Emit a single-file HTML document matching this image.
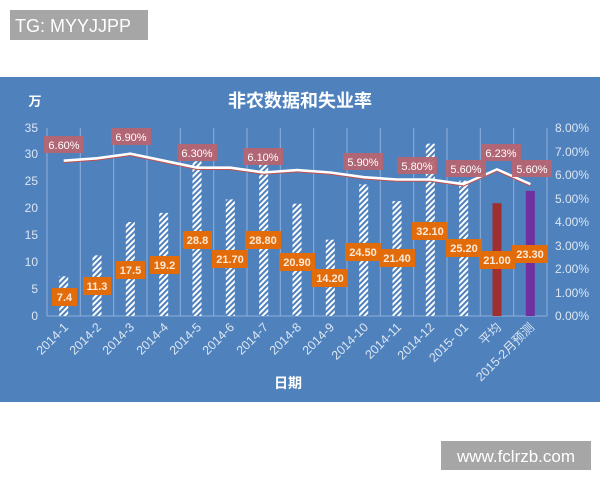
<!DOCTYPE html>
<html><head><meta charset="utf-8"><style>
html,body{margin:0;padding:0;background:#fff;width:600px;height:480px;overflow:hidden}
svg{display:block}
text{font-family:"Liberation Sans","Noto Sans CJK SC",sans-serif}
</style></head><body>
<svg width="600" height="480" viewBox="0 0 600 480" xmlns="http://www.w3.org/2000/svg">
<defs>
<pattern id="h" width="4" height="4" patternUnits="userSpaceOnUse" patternTransform="rotate(45)">
<rect width="4" height="4" fill="#4f81bd"/><rect width="2" height="4" fill="#fff"/>
</pattern>
</defs>
<rect x="10" y="10" width="138" height="30" fill="#a6a6a6"/>
<text x="15" y="32" font-size="18" fill="#fff">TG: MYYJJPP</text>
<rect x="0" y="77" width="600" height="325" fill="#4f81bd"/>
<text x="300" y="107" font-size="18" font-weight="bold" fill="#fff" text-anchor="middle">非农数据和失业率</text>
<text x="35" y="106" font-size="13" font-weight="bold" fill="#fff" text-anchor="middle">万</text>
<g stroke="#8fb0dc" stroke-width="1">
<line x1="47" y1="128" x2="47" y2="316"/><line x1="80.3" y1="128" x2="80.3" y2="316"/><line x1="113.7" y1="128" x2="113.7" y2="316"/><line x1="147" y1="128" x2="147" y2="316"/><line x1="180.3" y1="128" x2="180.3" y2="316"/><line x1="213.7" y1="128" x2="213.7" y2="316"/><line x1="247" y1="128" x2="247" y2="316"/><line x1="280.3" y1="128" x2="280.3" y2="316"/><line x1="313.7" y1="128" x2="313.7" y2="316"/><line x1="347" y1="128" x2="347" y2="316"/><line x1="380.3" y1="128" x2="380.3" y2="316"/><line x1="413.7" y1="128" x2="413.7" y2="316"/><line x1="447" y1="128" x2="447" y2="316"/><line x1="480.3" y1="128" x2="480.3" y2="316"/><line x1="513.7" y1="128" x2="513.7" y2="316"/><line x1="547" y1="128" x2="547" y2="316"/>
<line x1="47" y1="316" x2="547" y2="316"/>
</g>
<g font-size="12" fill="#dce6f2" text-anchor="end">
<text x="38" y="320">0</text><text x="38" y="293">5</text><text x="38" y="266">10</text><text x="38" y="239">15</text><text x="38" y="212">20</text><text x="38" y="185">25</text><text x="38" y="158">30</text><text x="38" y="132">35</text>
</g>
<g font-size="12" fill="#dce6f2">
<text x="555" y="320">0.00%</text><text x="555" y="297">1.00%</text><text x="555" y="273">2.00%</text><text x="555" y="250">3.00%</text><text x="555" y="226">4.00%</text><text x="555" y="203">5.00%</text><text x="555" y="179">6.00%</text><text x="555" y="156">7.00%</text><text x="555" y="132">8.00%</text>
</g>
<g fill="url(#h)">
<rect x="59.2" y="276.3" width="9" height="39.7"/><rect x="92.5" y="255.3" width="9" height="60.7"/><rect x="125.8" y="222" width="9" height="94"/><rect x="159.2" y="212.9" width="9" height="103.1"/><rect x="192.5" y="161.3" width="9" height="154.7"/><rect x="225.8" y="199.4" width="9" height="116.6"/><rect x="259.2" y="161.3" width="9" height="154.7"/><rect x="292.5" y="203.7" width="9" height="112.3"/><rect x="325.8" y="239.7" width="9" height="76.3"/><rect x="359.2" y="184.4" width="9" height="131.6"/><rect x="392.5" y="201.1" width="9" height="114.9"/><rect x="425.8" y="143.6" width="9" height="172.4"/><rect x="459.2" y="180.7" width="9" height="135.3"/>
</g>
<rect x="492.5" y="203.2" width="9" height="112.8" fill="#a0302f"/>
<rect x="525.8" y="190.9" width="9" height="125.1" fill="#7030a0"/>
<polyline fill="none" stroke="#fff" stroke-width="3" points="63.7,160.9 97,158.5 130.3,153.9 163.7,160.9 197,167.9 230.3,167.9 263.7,172.7 297,170.3 330.3,172.7 363.7,177.4 397,179.7 430.3,179.7 463.7,184.4 497,169.6 530.3,184.4"/>
<polyline fill="none" stroke="#c0504d" stroke-width="1" points="63.7,162.5 97,160.1 130.3,155.5 163.7,162.5 197,169.5 230.3,169.5 263.7,174.3 297,171.9 330.3,174.3 363.7,179 397,181.3 430.3,181.3 463.7,186 497,171.2 530.3,186"/>
<g fill="#b9646f" fill-opacity="0.92">
<rect x="44" y="136" width="40" height="17"/><rect x="111" y="128" width="40" height="17"/><rect x="177" y="144" width="40" height="17"/><rect x="243" y="148" width="40" height="17"/><rect x="343" y="153" width="40" height="17"/><rect x="397" y="157" width="40" height="17"/><rect x="446" y="160" width="40" height="17"/><rect x="481" y="144" width="40" height="17"/><rect x="512" y="160" width="40" height="17"/>
</g>
<g font-size="11" fill="#fff" text-anchor="middle">
<text x="64" y="149">6.60%</text><text x="131" y="141">6.90%</text><text x="197" y="157">6.30%</text><text x="263" y="161">6.10%</text><text x="363" y="166">5.90%</text><text x="417" y="170">5.80%</text><text x="466" y="173">5.60%</text><text x="501" y="157">6.23%</text><text x="532" y="173">5.60%</text>
</g>
<g fill="#e36c0a">
<rect x="52" y="288" width="25" height="18"/><rect x="83" y="277" width="28" height="18"/><rect x="116" y="261" width="29" height="18"/><rect x="150" y="256" width="29" height="18"/><rect x="183" y="231" width="29" height="18"/><rect x="212" y="250" width="36" height="18"/><rect x="245" y="231" width="36" height="18"/><rect x="279" y="253" width="36" height="18"/><rect x="312" y="269" width="36" height="18"/><rect x="345" y="243" width="36" height="18"/><rect x="379" y="249" width="36" height="18"/><rect x="412" y="222" width="36" height="18"/><rect x="446" y="239" width="36" height="18"/><rect x="479" y="251" width="36" height="18"/><rect x="512" y="245" width="36" height="18"/>
</g>
<g font-size="11" font-weight="bold" fill="#fde9d9" text-anchor="middle">
<text x="64.5" y="301">7.4</text><text x="97" y="290">11.3</text><text x="130.5" y="274">17.5</text><text x="164.5" y="269">19.2</text><text x="197.5" y="244">28.8</text><text x="230" y="263">21.70</text><text x="263" y="244">28.80</text><text x="297" y="266">20.90</text><text x="330" y="282">14.20</text><text x="363" y="256">24.50</text><text x="397" y="262">21.40</text><text x="430" y="235">32.10</text><text x="464" y="252">25.20</text><text x="497" y="264">21.00</text><text x="530" y="258">23.30</text>
</g>
<g font-size="12.5" fill="#dce6f2" text-anchor="end">
<text transform="translate(69,328) rotate(-45)">2014-1</text>
<text transform="translate(102,328) rotate(-45)">2014-2</text>
<text transform="translate(135,328) rotate(-45)">2014-3</text>
<text transform="translate(169,328) rotate(-45)">2014-4</text>
<text transform="translate(202,328) rotate(-45)">2014-5</text>
<text transform="translate(235,328) rotate(-45)">2014-6</text>
<text transform="translate(269,328) rotate(-45)">2014-7</text>
<text transform="translate(302,328) rotate(-45)">2014-8</text>
<text transform="translate(335,328) rotate(-45)">2014-9</text>
<text transform="translate(369,328) rotate(-45)">2014-10</text>
<text transform="translate(402,328) rotate(-45)">2014-11</text>
<text transform="translate(435,328) rotate(-45)">2014-12</text>
<text transform="translate(469,328) rotate(-45)">2015- 01</text>
<text transform="translate(502,328) rotate(-45)">平均</text>
<text transform="translate(535,328) rotate(-45)">2015-2月预测</text>
</g>
<text x="288" y="388" font-size="14" font-weight="bold" fill="#fff" text-anchor="middle">日期</text>
<rect x="441" y="441" width="150" height="29" fill="#a6a6a6"/>
<text x="516" y="462" font-size="17" fill="#fff" text-anchor="middle">www.fclrzb.com</text>
</svg>
</body></html>
